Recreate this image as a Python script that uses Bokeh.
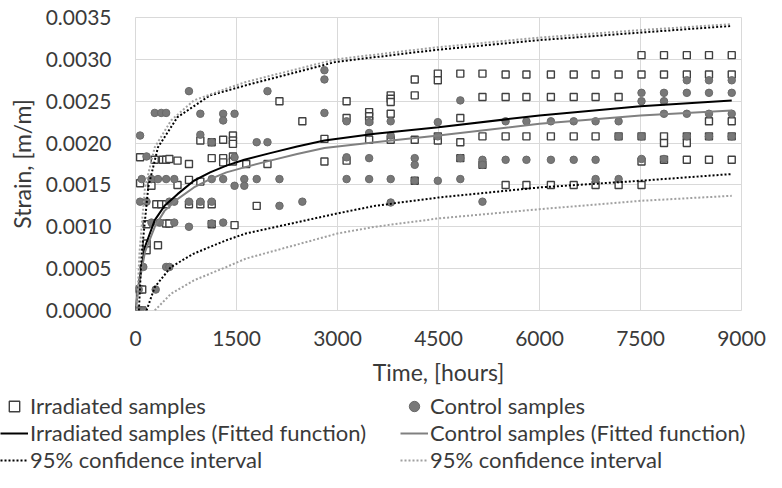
from bokeh.plotting import figure
from bokeh.layouts import column
from bokeh.models import Range1d, FixedTicker, Legend, LegendItem
from bokeh.embed import file_html
from bokeh.resources import INLINE

# ---------------- data ----------------
x_ticks = [0, 1500, 3000, 4500, 6000, 7500, 9000]
x_tick_labels = ["0", "1500", "3000", "4500", "6000", "7500", "9000"]
y_ticks = [0.0, 0.0005, 0.0010, 0.0015, 0.0020, 0.0025, 0.0030, 0.0035]
y_tick_labels = ["0.0000", "0.0005", "0.0010", "0.0015", "0.0020", "0.0025", "0.0030", "0.0035"]

irr_time = [
    0, 50, 100, 60, 100, 165, 165, 334,
    164, 455, 503, 1132, 1471,
    309, 382, 455, 794, 963, 1132,
    68, 237, 624, 794, 963,
    68, 286, 406, 455, 503, 624, 794, 1132, 1302, 1302, 1447, 1447, 1645,
    963, 1132, 1302, 1447, 1447, 1447,
    1800, 1960, 2138, 2478, 2806, 2806,
    3135, 3135, 3135,
    3470, 3470, 3470, 3470,
    3790, 3790, 3790, 3790, 3790,
    4147, 4147, 4147, 4147,
    4490, 4490, 4490, 4490,
    4824, 4824, 4824, 4824,
    5153, 5153, 5153, 5153,
    5497, 5497, 5497, 5497,
    5806, 5806, 5806, 5806,
    6169, 6169, 6169, 6169,
    6508, 6508, 6508, 6508,
    6833, 6833, 6833, 6833,
    7175, 7175, 7175, 7175,
    7515, 7515, 7515, 7515, 7515,
    7849, 7849, 7849, 7849, 7849,
    8188, 8188, 8188, 8188, 8188,
    8517, 8517, 8517, 8517, 8517,
    8855, 8855, 8855, 8855, 8855,
]
irr_strain = [
    0.0, 0.0, 0.0, 0.00025, 0.00025, 0.00080, 0.00072, 0.00078,
    0.00103, 0.00104, 0.00104, 0.00103, 0.00102,
    0.00127, 0.00127, 0.00127, 0.00127, 0.00127, 0.00127,
    0.00152, 0.00149, 0.00150, 0.00156, 0.00154,
    0.00183, 0.00180, 0.00180, 0.00180, 0.00181, 0.00179, 0.00175, 0.00182, 0.00182, 0.00177, 0.00184, 0.00178, 0.00175,
    0.00203, 0.00201, 0.00204, 0.00209, 0.00203, 0.00199,
    0.00125, 0.00175, 0.00250, 0.00226, 0.00205, 0.00178,
    0.00250, 0.00230, 0.00179,
    0.00237, 0.00232, 0.00227, 0.00204,
    0.00257, 0.00253, 0.00249, 0.00235, 0.00204,
    0.00276, 0.00257, 0.00204, 0.00155,
    0.00283, 0.00275, 0.00208, 0.00203,
    0.00283, 0.00230, 0.00201, 0.00182,
    0.00283, 0.00255, 0.00208, 0.00174,
    0.00282, 0.00255, 0.00208, 0.00150,
    0.00282, 0.00255, 0.00208, 0.00150,
    0.00282, 0.00255, 0.00208, 0.00150,
    0.00282, 0.00255, 0.00208, 0.00150,
    0.00282, 0.00255, 0.00208, 0.00150,
    0.00282, 0.00255, 0.00208, 0.00150,
    0.00305, 0.00282, 0.00208, 0.00178, 0.00150,
    0.00305, 0.00282, 0.00208, 0.00200, 0.00180,
    0.00305, 0.00282, 0.00208, 0.00200, 0.00180,
    0.00305, 0.00282, 0.00226, 0.00208, 0.00180,
    0.00305, 0.00282, 0.00226, 0.00208, 0.00180,
]

ctrl_time = [
    0, 30, 70, 116, 48, 300,
    116, 455, 503,
    237, 358, 576, 794, 1132, 1302,
    68, 164, 503, 576, 794, 963, 1132,
    92, 237, 334, 455, 576, 1132, 1302, 1471, 1616, 1616,
    164, 1471,
    68, 963, 1132,
    286, 382, 455, 963, 1302, 1302, 1471,
    794,
    1800, 1960, 1960, 1800, 2138, 2138, 2478,
    2806, 2806, 2806,
    3135, 3135, 3135,
    3470, 3470, 3470, 3470,
    3790, 3790, 3790, 3790,
    4147, 4147, 4147,
    4490, 4490, 4490,
    4824, 4824, 4824,
    5153, 5153, 5153,
    5497, 5497, 5806, 5806, 6169, 6169, 6508, 6508,
    6833, 6833, 6833,
    7175, 7175, 7175,
    7515, 7515, 7515, 7515,
    7849, 7849, 7849, 7849,
    8188, 8188, 8188, 8188,
    8517, 8517, 8517, 8517,
    8855, 8855, 8855, 8855,
]
ctrl_strain = [
    0.0, 0.0, 0.0, 0.0, 0.00025, 0.00025,
    0.00052, 0.00052, 0.00052,
    0.00105, 0.00105, 0.00105, 0.00100, 0.00104, 0.00105,
    0.00130, 0.00130, 0.00130, 0.00130, 0.00130, 0.00130, 0.00130,
    0.00157, 0.00157, 0.00157, 0.00157, 0.00157, 0.00157, 0.00157, 0.00149, 0.00157, 0.00149,
    0.00184, 0.00183,
    0.00209, 0.00210, 0.00201,
    0.00236, 0.00236, 0.00236, 0.00235, 0.00235, 0.00227, 0.00235,
    0.00262,
    0.00201, 0.00201, 0.00262, 0.00157, 0.00157, 0.00125, 0.00130,
    0.00287, 0.00276, 0.00236,
    0.00226, 0.00183, 0.00157,
    0.00225, 0.00212, 0.00182, 0.00157,
    0.00226, 0.00209, 0.00157, 0.00129,
    0.00182, 0.00174, 0.00155,
    0.00225, 0.00208, 0.00155,
    0.00251, 0.00182, 0.00157,
    0.00180, 0.00174, 0.00130,
    0.00226, 0.00180, 0.00226, 0.00180, 0.00226, 0.00180, 0.00226, 0.00180,
    0.00226, 0.00180, 0.00157,
    0.00226, 0.00208, 0.00157,
    0.00260, 0.00250, 0.00208, 0.00181,
    0.00260, 0.00250, 0.00235, 0.00181,
    0.00275, 0.00260, 0.00235, 0.00208,
    0.00275, 0.00260, 0.00235, 0.00208,
    0.00275, 0.00260, 0.00235, 0.00208,
]

# fitted functions
fit_time = [0, 30, 72, 141, 286, 431, 624, 867, 1108, 1350, 1616, 2000, 2400, 2806, 3556, 4500, 6000, 7500, 8855]
irr_fit = [0.0, 0.00022, 0.00044, 0.00076, 0.00108, 0.00125, 0.00139, 0.00155, 0.00165, 0.00173, 0.00180,
           0.00188, 0.00196, 0.00203, 0.00211, 0.00219, 0.00233, 0.00244, 0.00251]
ctrl_fit = [0.0, 0.00020, 0.00040, 0.00070, 0.00100, 0.00119, 0.00133, 0.00147, 0.00157, 0.00165, 0.00171,
            0.00179, 0.00187, 0.00194, 0.00201, 0.00209, 0.00223, 0.00233, 0.00239]

# 95% confidence intervals
irr_up_time = [50, 92, 189, 334, 624, 1108, 1640, 2976, 4427, 6000, 7500, 8855]
irr_up = [0.0, 0.00068, 0.00147, 0.00195, 0.00231, 0.00257, 0.00269, 0.00297, 0.00311, 0.00323, 0.00332, 0.00340]
irr_lo_time = [164, 286, 527, 867, 1350, 1640, 3000, 3556, 4500, 6000, 7500, 8855]
irr_lo = [0.0, 0.00028, 0.00052, 0.00068, 0.00084, 0.00092, 0.00116, 0.00125, 0.00135, 0.00147, 0.00155, 0.00163]
ctrl_up_time = [20, 60, 141, 286, 528, 867, 1350, 1640, 2976, 4427, 6000, 7500, 8855]
ctrl_up = [0.0, 0.00070, 0.00147, 0.00195, 0.00227, 0.00251, 0.00265, 0.00273, 0.00300, 0.00314, 0.00326, 0.00335, 0.00342]
ctrl_lo_time = [286, 527, 867, 1350, 1640, 3000, 3556, 4500, 6000, 7500, 8855]
ctrl_lo = [0.0, 0.00020, 0.00036, 0.00052, 0.00062, 0.00092, 0.00100, 0.00110, 0.00121, 0.00131, 0.00137]

legend_labels = ["Irradiated samples", "Control samples",
                 "Irradiated samples (Fitted function)", "Control samples (Fitted function)",
                 "95% confidence interval", "95% confidence interval"]

# ---------------- styling ----------------
FONT = "Lato"
TXT = "#3a3a3a"
GRID = "#d9d9d9"
SQ = dict(marker="square", size=7, fill_color="white", line_color="#404040", line_width=1.4)
CC = dict(marker="circle", size=7.5, fill_color="#787878", line_color="#6a6a6a", line_width=1)
L_IRR = dict(line_color="black", line_width=2)
L_CTRL = dict(line_color="#808080", line_width=2)
D_IRR = dict(line_color="black", line_width=2, line_dash="2 2")
D_CTRL = dict(line_color="#a0a0a0", line_width=2, line_dash="2 2")

p = figure(width=766, height=392, output_backend="svg", toolbar_location=None,
           x_range=Range1d(0, 9000), y_range=Range1d(0, 0.0035),
           min_border_left=135, min_border_right=25, min_border_top=17, min_border_bottom=82)
p.background_fill_color = "white"
p.border_fill_color = "white"
p.outline_line_color = GRID
p.outline_line_width = 1

p.xaxis.ticker = FixedTicker(ticks=x_ticks)
p.yaxis.ticker = FixedTicker(ticks=y_ticks)
p.xaxis.major_label_overrides = {t: l for t, l in zip(x_ticks, x_tick_labels)}
p.yaxis.major_label_overrides = {t: l for t, l in zip(y_ticks, y_tick_labels)}
for ax in (p.xaxis, p.yaxis):
    ax.axis_line_color = None
    ax.major_tick_line_color = None
    ax.minor_tick_line_color = None
    ax.major_tick_out = 0
    ax.major_tick_in = 0
    ax.minor_tick_out = 0
    ax.minor_tick_in = 0
    ax.major_label_text_font = FONT
    ax.major_label_text_font_size = "21px"
    ax.major_label_text_color = TXT
    ax.axis_label_text_font = FONT
    ax.axis_label_text_font_size = "23px"
    ax.axis_label_text_font_style = "normal"
    ax.axis_label_text_color = TXT
p.xaxis.axis_label = "Time, [hours]"
p.yaxis.axis_label = "Strain, [m/m]"
p.xaxis.major_label_standoff = 20
p.xaxis.axis_label_standoff = 9
p.yaxis.major_label_standoff = 24
p.yaxis.axis_label_standoff = 7
p.grid.grid_line_color = GRID
p.grid.grid_line_width = 1

p.scatter(irr_time, irr_strain, **SQ)
p.scatter(ctrl_time, ctrl_strain, **CC)
p.line(fit_time, irr_fit, **L_IRR)
p.line(fit_time, ctrl_fit, **L_CTRL)
p.line(irr_up_time, irr_up, **D_IRR)
p.line(irr_lo_time, irr_lo, **D_IRR)
p.line(ctrl_up_time, ctrl_up, **D_CTRL)
p.line(ctrl_lo_time, ctrl_lo, **D_CTRL)

# ---------------- legend strip below the chart ----------------
lf = figure(width=766, height=80, output_backend="svg", toolbar_location=None,
            x_range=Range1d(0, 1), y_range=Range1d(0, 1),
            x_axis_location=None, y_axis_location=None, min_border=0)
lf.grid.visible = False
lf.outline_line_color = None
lf.background_fill_color = "white"
lf.border_fill_color = "white"
nan = [float("nan")]
r_sq = lf.scatter(x=nan, y=nan, **SQ)
r_cc = lf.scatter(x=nan, y=nan, **CC)
r_li = lf.line(x=nan, y=nan, **L_IRR)
r_lc = lf.line(x=nan, y=nan, **L_CTRL)
r_di = lf.line(x=nan, y=nan, **D_IRR)
r_dc = lf.line(x=nan, y=nan, **D_CTRL)
rends = [r_sq, r_cc, r_li, r_lc, r_di, r_dc]
items = [LegendItem(label=lab, renderers=[r]) for lab, r in zip(legend_labels, rends)]
legend = Legend(items=items, location="top_left", orientation="horizontal", ncols=2,
                glyph_width=28, glyph_height=26, label_standoff=2, spacing=0,
                label_width=370, label_height=26, padding=0, margin=0,
                border_line_color=None, background_fill_alpha=0,
                label_text_font=FONT, label_text_font_size="22px", label_text_color=TXT)
lf.add_layout(legend, "center")

# do not align the legend strip's frame with the chart's frame
for fig in (p, lf):
    if "frame_align" in fig.properties():
        fig.frame_align = False

layout = column(p, lf, spacing=0)
open("out.html", "w").write(file_html(layout, INLINE))
